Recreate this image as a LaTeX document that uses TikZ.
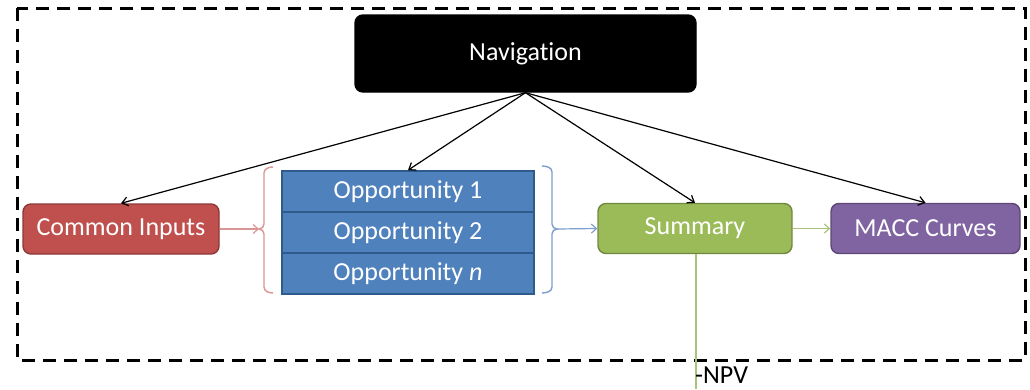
\documentclass[tikz,border=0pt]{standalone}
\usepackage{fontspec}
\setmainfont[Ligatures={NoCommon}]{Carlito}
\usetikzlibrary{arrows.meta,calc}
\definecolor{cired}{HTML}{C0504D}
\definecolor{cireddk}{HTML}{8C3836}
\definecolor{opblue}{HTML}{4F81BD}
\definecolor{opbluedk}{HTML}{2E5A8C}
\definecolor{sumgreen}{HTML}{9BBB59}
\definecolor{sumgreendk}{HTML}{71893F}
\definecolor{maccpurple}{HTML}{8064A2}
\definecolor{maccpurpledk}{HTML}{5C4776}
\definecolor{redbr}{HTML}{D99694}
\definecolor{bluebr}{HTML}{7F9FCF}
\definecolor{greenln}{HTML}{A9C47A}
\tikzset{
  box/.style={rounded corners=8pt, line width=1.4pt, text=white, inner sep=0pt,
    font=\fontsize{26}{30}\selectfont},
  opbox/.style={draw=opbluedk, fill=opblue, line width=1.6pt, text=white, inner sep=0pt,
    minimum width=252pt, minimum height=41pt, font=\fontsize{26}{30}\selectfont},
  navarrow/.style={-{Straight Barb[length=6pt,width=9pt]}, line width=1.2pt, black},
  brarrow/.style={-{Straight Barb[length=5pt,width=9pt]}, line width=1.2pt},
}
\begin{document}
\begin{tikzpicture}[x=1pt,y=-1pt]
\clip (0,0) rectangle (1030,389);
\fill[white] (0,0) rectangle (1030,389);
\draw[line width=3pt, dash pattern=on 13pt off 8pt] (17,8) rectangle (1025,360);

\node[box, fill=black, draw=black, minimum width=341pt, minimum height=77pt] (nav) at (525.5,53.5) {Navigation};
\node[box, fill=cired, draw=cireddk, minimum width=196pt, minimum height=50pt] (ci) at (121,229) {Common Inputs};
\node[opbox] (opp1) at (408,191.5) {Opportunity 1};
\node[opbox] (opp2) at (408,232.5) {Opportunity 2};
\node[opbox] (opp3) at (408,273.5) {Opportunity \textit{n}};
\node[box, fill=sumgreen, draw=sumgreendk, minimum width=194pt, minimum height=50pt] (sum) at (695,228.5) {Summary};
\node[box, fill=maccpurple, draw=maccpurpledk, minimum width=189pt, minimum height=50pt] (macc) at (925.5,228.5) {MACC Curves};

% braces
\draw[redbr, line width=1.4pt] (273,167) to[out=180,in=90] (264,173) -- (264,224)
  to[out=-90,in=0] (259,229) coordinate (lbr) to[out=0,in=90] (264,234) -- (264,287) to[out=-90,in=180] (273,293);
\draw[bluebr, line width=1.4pt] (542,166) to[out=0,in=90] (552,172) -- (552,224)
  to[out=-90,in=180] (557,229) coordinate (rbr) to[out=180,in=90] (552,234) -- (552,287) to[out=-90,in=0] (542,293);

\draw[brarrow, redbr] (ci.east) -- (lbr);
\draw[brarrow, bluebr] (rbr) -- (sum.west);
\draw[brarrow, greenln] (sum.east) -- (macc.west);

\draw[navarrow] (nav.south) -- (ci.north);
\draw[navarrow] (nav.south) -- (opp1.north);
\draw[navarrow] (nav.south) -- (sum.north);
\draw[navarrow] (nav.south) -- (macc.north);

\coordinate (npvend) at (696,389);
\draw[greenln, line width=2.2pt] (sum.south -| npvend) -- (npvend);
\node[anchor=north west, inner sep=0pt, font=\fontsize{26}{30}\selectfont] (npv) at (695,367) {-NPV};
\end{tikzpicture}
\end{document}
